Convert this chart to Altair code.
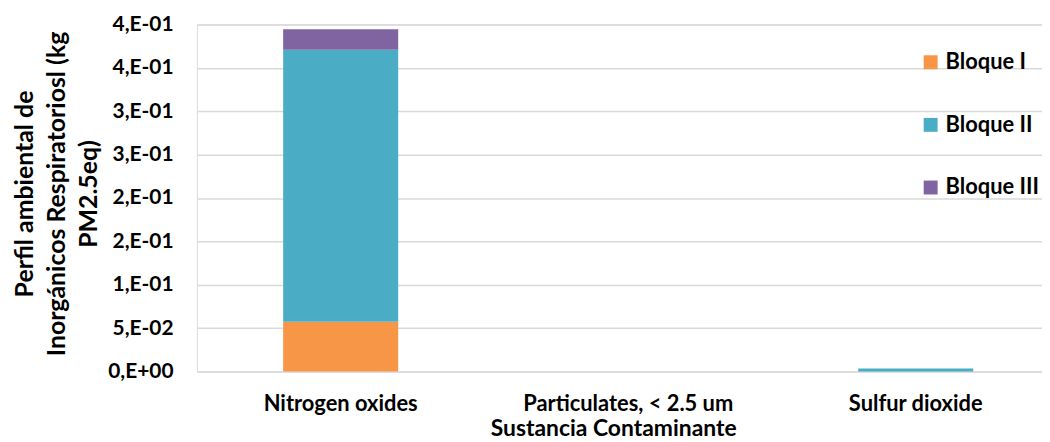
import json
import altair as alt
import pandas as pd

categories = ["Nitrogen oxides", "Particulates, < 2.5 um", "Sulfur dioxide"]
series_names = ["Bloque I", "Bloque II", "Bloque III"]
bloque_i = [0.0573, 0.0, 0.0]
bloque_ii = [0.3136, 0.0, 0.0034]
bloque_iii = [0.0237, 0.0, 0.0]
series_colors = ["#F79646", "#4BACC6", "#8064A2"]

tick_values = [0.0, 0.05, 0.10, 0.15, 0.20, 0.25, 0.30, 0.35, 0.40]
tick_labels = ["0,E+00", "5,E-02", "1,E-01", "2,E-01", "2,E-01",
               "3,E-01", "3,E-01", "4,E-01", "4,E-01"]

y_title = ["Perfil ambiental de", "Inorgánicos Respiratoriosl (kg", "PM2.5eq)"]
x_title = "Sustancia Contaminante"

rows = []
for name, vals in zip(series_names, [bloque_i, bloque_ii, bloque_iii]):
    for c, v in zip(categories, vals):
        rows.append({"Sustancia": c, "Bloque": name, "Valor": v})
df = pd.DataFrame(rows)

FONT = "Lato"
W = 850
H = 349

label_expr = json.dumps(tick_labels) + "[round(datum.value / 0.05)]"

chart = alt.Chart(df).mark_bar().encode(
    x=alt.X(
        "Sustancia:N",
        sort=categories,
        scale=alt.Scale(range=[0, 867.6], paddingInner=0.6, paddingOuter=0.3),
        axis=alt.Axis(
            title=x_title,
            labelAngle=0,
            labelFont=FONT,
            labelFontWeight="bold",
            labelFontSize=22,
            labelColor="#000000",
            labelLimit=0,
            labelPadding=22,
            ticks=False,
            tickSize=0,
            domain=False,
            grid=False,
            titleFont=FONT,
            titleFontWeight="bold",
            titleFontSize=23,
            titleColor="#000000",
            titleX=418.7,
            titleY=64.5,
            titleAlign="center",
            titleBaseline="alphabetic",
        ),
    ),
    y=alt.Y(
        "Valor:Q",
        stack="zero",
        scale=alt.Scale(domain=[0, 0.4], nice=False),
        axis=alt.Axis(
            values=tick_values,
            labelExpr=label_expr,
            labelFont=FONT,
            labelFontWeight="bold",
            labelFontSize=21,
            labelColor="#000000",
            labelPadding=24,
            ticks=False,
            tickSize=0,
            domain=False,
            grid=True,
            gridColor="#D9D9D9",
            gridWidth=1.5,
            title=y_title,
            titleFont=FONT,
            titleFontWeight="bold",
            titleFontSize=25,
            titleColor="#000000",
            titleAngle=270,
            titleAlign="center",
            titleBaseline="top",
            titleLineHeight=32,
            titleX=-185,
            titleY=170,
        ),
    ),
    color=alt.Color(
        "Bloque:N",
        sort=series_names,
        scale=alt.Scale(domain=series_names, range=series_colors),
        legend=alt.Legend(
            title=None,
            orient="none",
            legendX=727,
            legendY=27,
            symbolType="square",
            symbolSize=196,
            symbolStrokeWidth=0,
            symbolOpacity=1,
            labelFont=FONT,
            labelFontWeight="bold",
            labelFontSize=22,
            labelColor="#000000",
            labelOffset=4,
            rowPadding=41,
            padding=0,
        ),
    ),
    order=alt.Order("Bloque:N", sort="ascending"),
).properties(
    width=W,
    height=H,
    autosize=alt.AutoSizeParams(type="none"),
    padding={"left": 190, "top": 15.3, "right": 0, "bottom": 70},
).configure_view(
    stroke=None
).configure(
    background="#FFFFFF"
)

chart.save("out.html", embed_options={"renderer": "svg", "actions": False})
